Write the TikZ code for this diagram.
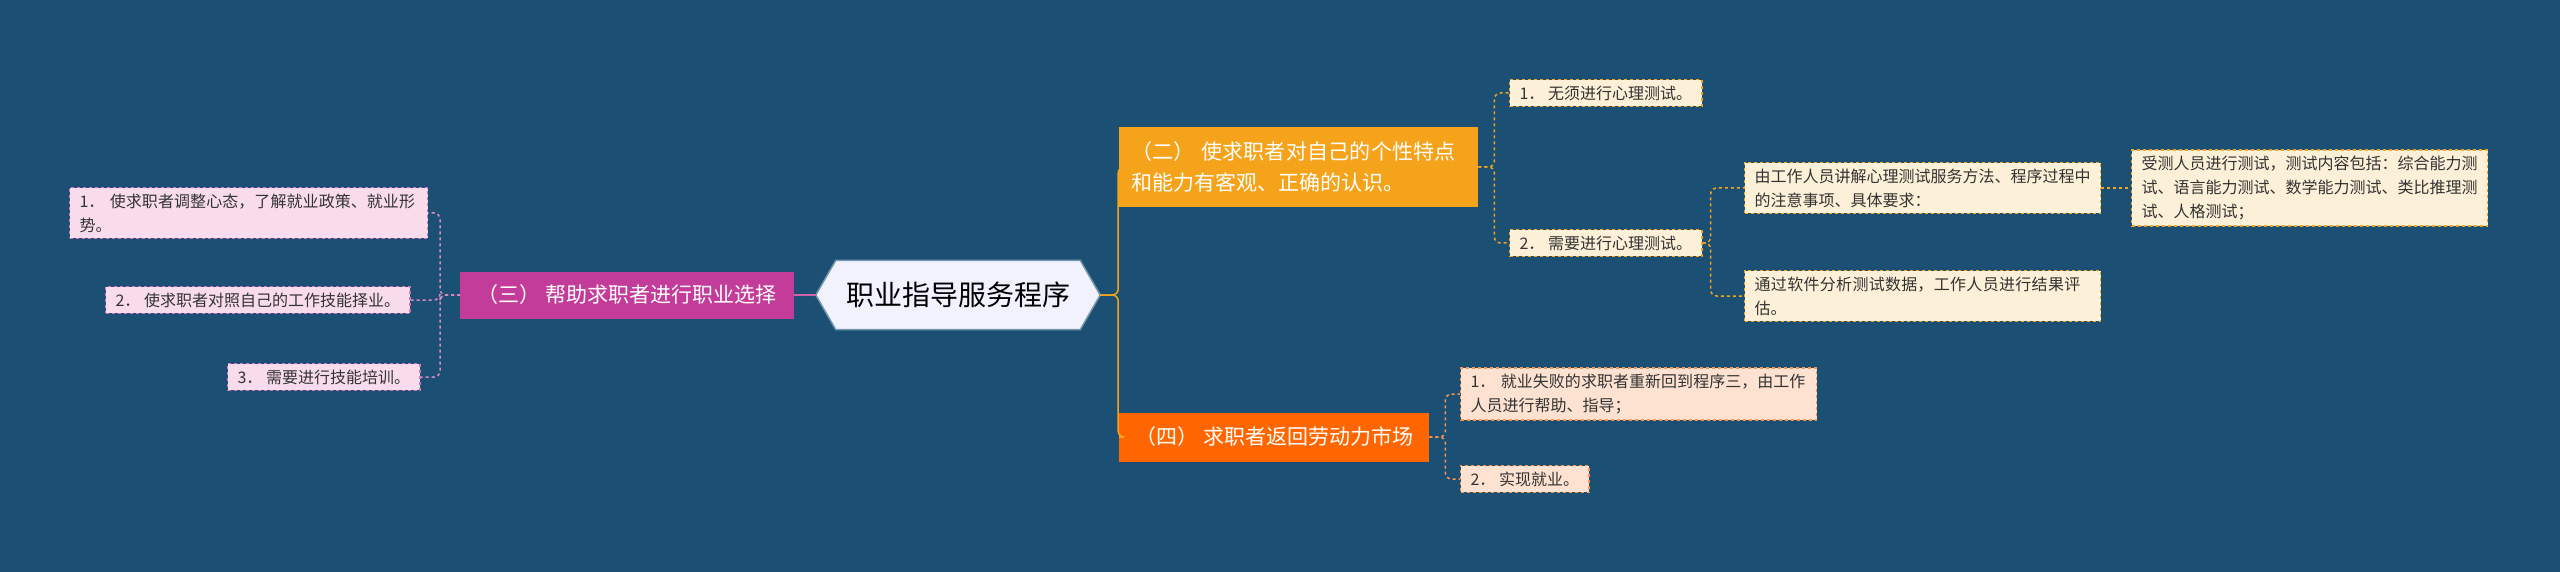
\documentclass[tikz,border=0pt]{standalone}
\usepackage{fontspec}
\setmainfont{Noto Sans CJK SC}
\XeTeXlinebreaklocale "zh"
\XeTeXlinebreakskip=0pt plus 1pt
\usetikzlibrary{shapes.geometric,shapes.misc}
\definecolor{bg}{HTML}{1B5074}
\definecolor{mag}{HTML}{C43C9A}
\definecolor{org}{HTML}{F5A31A}
\definecolor{red4}{HTML}{FF6600}
\definecolor{pinkf}{HTML}{F8DCEC}
\definecolor{creamf}{HTML}{FDF0D8}
\definecolor{peachf}{HTML}{FDE2D2}
\begin{document}
\begin{tikzpicture}[x=1pt,y=-1pt,
 leaf/.style={draw,dashed,line width=1.2pt,anchor=west,align=left,inner xsep=10pt,inner ysep=6pt,font=\fontsize{16}{24}\selectfont,text=black!80},
 lp/.style={leaf,fill=pinkf,draw=mag!70},
 lc/.style={leaf,fill=creamf,draw=org},
 lr/.style={leaf,fill=peachf,draw=red4!70},
 lvl/.style={anchor=west,align=left,inner xsep=12pt,inner ysep=8pt,text=white,font=\fontsize{21}{31}\selectfont},
 conn/.style={line width=1.5pt,rounded corners=6pt}]
\fill[bg] (0,0) rectangle (2560,572);
\useasboundingbox (0,0) rectangle (2560,572);
\node[minimum width=256pt,minimum height=69pt,font=\fontsize{28}{34}\selectfont] (c) at (958,295) {职业指导服务程序};
\fill[white!95!blue,draw=bg!60,line width=1.5pt] ([xshift=-14pt]c.west) -- ([xshift=6pt]c.north west) -- ([xshift=-6pt]c.north east) -- ([xshift=14pt]c.east) -- ([xshift=-6pt]c.south east) -- ([xshift=6pt]c.south west) -- cycle;
\node[minimum width=256pt,minimum height=69pt,font=\fontsize{28}{34}\selectfont] at (958,295) {职业指导服务程序};
\node[lvl,fill=mag,minimum height=47pt,minimum width=334pt] (l3) at (460,295) {（三） 帮助求职者进行职业选择};
\node[lvl,fill=org,text width=335pt,minimum height=80pt,text=white] (l2) at (1119,167) {（二） 使求职者对自己的个性特点和能力有客观、正确的认识。};
\node[lvl,fill=red4,minimum height=49pt,minimum width=310pt] (l4) at (1119,437) {（四） 求职者返回劳动力市场};
\node[lp,text width=338pt] (p1) at (69,213) {1． 使求职者调整心态，了解就业政策、就业形势。};
\node[lp] (p2) at (105,300) {2． 使求职者对照自己的工作技能择业。};
\node[lp] (p3) at (227,377) {3． 需要进行技能培训。};
\node[lc] (a1) at (1509,93) {1． 无须进行心理测试。};
\node[lc] (a2) at (1509,243) {2． 需要进行心理测试。};
\node[lc,text width=336pt] (s1) at (1744,188) {由工作人员讲解心理测试服务方法、程序过程中的注意事项、具体要求：};
\node[lc,text width=336pt] (s2) at (1744,296) {通过软件分析测试数据，工作人员进行结果评估。};
\node[lc,text width=336pt] (ss) at (2131,188) {受测人员进行测试，测试内容包括：综合能力测试、语言能力测试、数学能力测试、类比推理测试、人格测试；};
\node[lr,text width=336pt] (b1) at (1460,394) {1． 就业失败的求职者重新回到程序三，由工作人员进行帮助、指导；};
\node[lr] (b2) at (1460,479) {2． 实现就业。};
\draw[conn,mag!80] ([xshift=-14pt]c.west) -- (l3.east);
\foreach \n in {p1,p2,p3} \draw[conn,mag!60,dashed] (l3.west) -- ++(-20,0) |- (\n.east);
\foreach \n in {l2,l4} \draw[conn,org] ([xshift=14pt]c.east) -- ++(18,0) |- (\n.west);
\foreach \n in {a1,a2} \draw[conn,org,dashed] (l2.east) -- ++(16,0) |- (\n.west);
\foreach \n in {s1,s2} \draw[conn,org,dashed] (a2.east) -- ++(8,0) |- (\n.west);
\draw[conn,org,dashed] (s1.east) -- (ss.west);
\foreach \n in {b1,b2} \draw[conn,red4!70,dashed] (l4.east) -- ++(16,0) |- (\n.west);
\end{tikzpicture}
\end{document}
